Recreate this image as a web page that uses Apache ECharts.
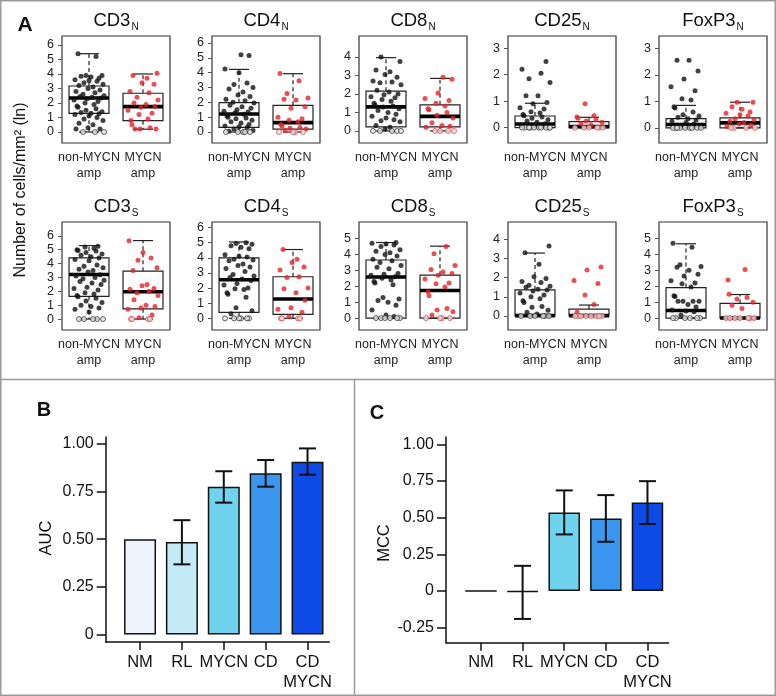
<!DOCTYPE html>
<html>
<head>
<meta charset="utf-8">
<script src="https://cdn.jsdelivr.net/npm/echarts@6/dist/echarts.min.js"></script>
<style>
html, body { margin: 0; padding: 0; background: #fff; }
#chart { width: 776px; height: 696px; }
</style>
</head>
<body>
<div id="chart"></div>
<script>
// groups on the x axis of every box plot
var GROUPS = ['non-MYCN\namp', 'MYCN\namp'];

// box stats: [lower whisker, Q1, median, Q3, upper whisker] for non-MYCN, MYCN
var CD3N_STATS = [[0, 1.29, 2.34, 3.17, 5.4], [0.19, 0.78, 1.75, 2.67, 4.0]];
var CD4N_STATS = [[0, 0.31, 1.21, 1.98, 4.22], [0, 0.2, 0.63, 1.8, 3.93]];
var CD8N_STATS = [[0, 0.22, 1.3, 2.15, 3.96], [0, 0.22, 0.79, 1.41, 2.84]];
var CD25N_STATS = [[0, 0, 0.14, 0.44, 0.92], [0, 0, 0.04, 0.23, 0.39]];
var FOXP3N_STATS = [[0, 0, 0.13, 0.35, 0.85], [0, 0, 0.19, 0.38, 0.97]];
var CD3S_STATS = [[0, 1.63, 3.21, 4.41, 5.3], [0, 0.74, 1.97, 3.45, 5.66]];
var CD4S_STATS = [[0, 0.4, 2.55, 4.0, 5.05], [0, 0.26, 1.28, 2.75, 4.55]];
var CD8S_STATS = [[0, 0, 2.58, 3.65, 4.75], [0, 0, 1.73, 2.7, 4.52]];
var CD25S_STATS = [[0, 0, 0.02, 1.36, 3.28], [0, 0, 0.02, 0.36, 0.57]];
var FOXP3S_STATS = [[0, 0, 0.48, 1.92, 4.67], [0, 0, 0, 0.92, 1.48]];

// individual samples (ln cells/mm2)
var CD3N_NON = [5.4, 5.2, 3.9, 3.9, 3.85, 3.8, 3.7, 3.6, 3.55, 3.5, 3.4, 3.3, 3.2, 3.1, 3.0, 2.9, 2.8, 2.7, 2.6, 2.5, 2.45, 2.4, 2.35, 2.3, 2.2, 2.1, 2.0, 1.9, 1.8, 1.7, 1.6, 1.5, 1.4, 1.35, 1.3, 1.25, 1.2, 1.1, 1.0, 0.9, 0.8, 0.6, 0.5, 0.3, 0.2, 0.2, 0, 0, 0];
var CD3N_AMP = [4.05, 3.9, 3.7, 3.4, 3.3, 2.8, 2.7, 2.4, 2.2, 2.0, 1.9, 1.75, 1.7, 1.5, 1.3, 1.2, 0.9, 0.8, 0.5, 0.3, 0.2, 0.2, 0.2];
var CD4N_NON = [5.2, 5.15, 4.25, 4.0, 3.3, 3.2, 3.0, 2.9, 2.7, 2.5, 2.4, 2.2, 2.1, 2.0, 1.95, 1.8, 1.7, 1.6, 1.5, 1.4, 1.35, 1.3, 1.2, 1.1, 1.0, 0.95, 0.9, 0.8, 0.7, 0.6, 0.5, 0.4, 0.35, 0.3, 0.2, 0.1, 0.05, 0, 0, 0, 0, 0];
var CD4N_AMP = [3.95, 3.45, 2.6, 2.3, 2.2, 2.15, 1.7, 1.6, 1.0, 0.9, 0.8, 0.7, 0.5, 0.4, 0.3, 0.25, 0.2, 0.1, 0, 0, 0, 0];
var CD8N_NON = [4.0, 3.75, 3.3, 3.2, 3.05, 2.9, 2.7, 2.65, 2.6, 2.5, 2.2, 2.1, 2.0, 1.95, 1.85, 1.8, 1.7, 1.6, 1.5, 1.4, 1.35, 1.3, 1.2, 1.1, 1.0, 0.9, 0.8, 0.7, 0.6, 0.55, 0.5, 0.3, 0.2, 0.1, 0, 0, 0, 0, 0];
var CD8N_AMP = [2.9, 2.8, 2.05, 1.75, 1.65, 1.5, 1.35, 1.2, 1.15, 1.0, 0.85, 0.7, 0.45, 0.3, 0.25, 0.2, 0, 0, 0, 0];
var CD25N_NON = [2.5, 2.2, 2.05, 1.85, 1.7, 1.2, 1.2, 0.95, 0.9, 0.75, 0.7, 0.6, 0.55, 0.5, 0.45, 0.4, 0.35, 0.3, 0.25, 0.2, 0.15, 0.1, 0.1, 0.05, 0, 0, 0, 0, 0, 0, 0, 0, 0, 0];
var CD25N_AMP = [0.9, 0.45, 0.4, 0.35, 0.3, 0.25, 0.2, 0.15, 0.1, 0, 0, 0, 0, 0, 0];
var FOXP3N_NON = [2.55, 2.55, 2.15, 1.85, 1.55, 1.4, 1.1, 1.05, 0.8, 0.75, 0.6, 0.5, 0.45, 0.4, 0.35, 0.3, 0.25, 0.2, 0.15, 0.1, 0.05, 0, 0, 0, 0, 0, 0, 0, 0, 0];
var FOXP3N_AMP = [0.97, 0.97, 0.8, 0.7, 0.6, 0.55, 0.5, 0.45, 0.35, 0.3, 0.25, 0.2, 0.15, 0.1, 0.05, 0, 0, 0, 0];
var CD3S_NON = [5.25, 5.2, 5.1, 5.0, 4.95, 4.9, 4.8, 4.7, 4.6, 4.5, 4.4, 4.3, 4.2, 3.9, 3.8, 3.7, 3.6, 3.5, 3.4, 3.2, 3.1, 3.0, 2.9, 2.8, 2.7, 2.6, 2.5, 2.3, 2.2, 2.1, 1.9, 1.8, 1.7, 1.6, 1.5, 1.3, 1.2, 1.0, 0.9, 0.8, 0.7, 0.5, 0, 0, 0, 0, 0];
var CD3S_AMP = [5.65, 4.8, 4.4, 4.25, 3.7, 3.5, 2.5, 2.4, 2.2, 2.15, 2.0, 1.9, 1.7, 1.4, 1.0, 0.9, 0.8, 0.7, 0.3, 0.1, 0, 0, 0, 0];
var CD4S_NON = [5.0, 4.95, 4.9, 4.8, 4.7, 4.6, 4.2, 4.1, 4.05, 3.9, 3.85, 3.8, 3.6, 3.5, 3.4, 3.3, 3.1, 2.9, 2.8, 2.7, 2.6, 2.5, 2.3, 2.2, 2.0, 1.95, 1.9, 1.7, 1.6, 1.4, 0.7, 0.5, 0.3, 0, 0, 0, 0, 0, 0];
var CD4S_AMP = [4.55, 3.9, 3.7, 3.4, 3.2, 2.75, 2.7, 2.0, 1.95, 1.7, 1.2, 0.7, 0.6, 0.4, 0.1, 0, 0, 0, 0];
var CD8S_NON = [4.75, 4.7, 4.65, 4.6, 4.5, 4.3, 4.2, 4.1, 4.0, 3.9, 3.7, 3.6, 3.5, 3.3, 3.2, 3.1, 2.8, 2.75, 2.7, 2.6, 2.5, 2.4, 2.3, 2.2, 2.1, 1.3, 1.2, 1.1, 1.0, 0.8, 0.5, 0.2, 0.1, 0, 0, 0, 0, 0, 0];
var CD8S_AMP = [4.5, 4.05, 3.3, 3.05, 2.9, 2.8, 2.7, 2.45, 2.2, 2.15, 1.95, 1.65, 1.4, 0.6, 0.5, 0.4, 0.2, 0, 0, 0, 0];
var CD25S_NON = [3.65, 3.3, 2.7, 2.05, 1.95, 1.8, 1.75, 1.6, 1.55, 1.5, 1.4, 1.35, 1.3, 1.2, 1.1, 1.0, 0.9, 0.8, 0.7, 0.5, 0.45, 0.3, 0.2, 0.1, 0, 0, 0, 0, 0, 0];
var CD25S_AMP = [2.55, 2.4, 1.85, 1.7, 1.1, 0.6, 0.2, 0, 0, 0, 0, 0, 0, 0, 0];
var FOXP3S_NON = [4.7, 4.45, 3.35, 3.25, 3.2, 3.0, 2.75, 2.65, 2.35, 2.2, 2.15, 1.95, 1.4, 1.35, 1.05, 1.05, 1.05, 1.05, 0.85, 0.7, 0.5, 0.45, 0.4, 0.2, 0, 0, 0, 0, 0, 0];
var FOXP3S_AMP = [3.05, 2.4, 1.5, 1.3, 1.2, 1.0, 0.8, 0.6, 0, 0, 0, 0, 0, 0, 0];

// y tick labels of the box plots
var TICKS_3 = [0, 1, 2, 3];
var TICKS_4 = [0, 1, 2, 3, 4];
var TICKS_5 = [0, 1, 2, 3, 4, 5];
var TICKS_6 = [0, 1, 2, 3, 4, 5, 6];

// panels B and C
var BAR_CATS = ['NM', 'RL', 'MYCN', 'CD', 'CD\nMYCN'];
var AUC = [0.5, 0.485, 0.776, 0.846, 0.907];
var AUC_LO = [null, 0.368, 0.692, 0.776, 0.839];
var AUC_HI = [null, 0.6, 0.857, 0.916, 0.977];
var MCC = [0, -0.005, 0.536, 0.495, 0.604];
var MCC_LO = [null, -0.19, 0.386, 0.336, 0.457];
var MCC_HI = [null, 0.172, 0.686, 0.654, 0.749];
var AUC_TICKS = [0, 0.25, 0.5, 0.75, 1];
var AUC_TICK_LABELS = ['0', '0.25', '0.50', '0.75', '1.00'];
var MCC_TICKS = [-0.25, 0, 0.25, 0.5, 0.75, 1];
var MCC_TICK_LABELS = ['-0.25', '0', '0.25', '0.50', '0.75', '1.00'];

var PANELS = [
	{ name: 'CD3', sub: 'N', stats: CD3N_STATS, non: CD3N_NON, amp: CD3N_AMP, ticks: TICKS_6 },
	{ name: 'CD4', sub: 'N', stats: CD4N_STATS, non: CD4N_NON, amp: CD4N_AMP, ticks: TICKS_6 },
	{ name: 'CD8', sub: 'N', stats: CD8N_STATS, non: CD8N_NON, amp: CD8N_AMP, ticks: TICKS_4 },
	{ name: 'CD25', sub: 'N', stats: CD25N_STATS, non: CD25N_NON, amp: CD25N_AMP, ticks: TICKS_3 },
	{ name: 'FoxP3', sub: 'N', stats: FOXP3N_STATS, non: FOXP3N_NON, amp: FOXP3N_AMP, ticks: TICKS_3 },
	{ name: 'CD3', sub: 'S', stats: CD3S_STATS, non: CD3S_NON, amp: CD3S_AMP, ticks: TICKS_6 },
	{ name: 'CD4', sub: 'S', stats: CD4S_STATS, non: CD4S_NON, amp: CD4S_AMP, ticks: TICKS_6 },
	{ name: 'CD8', sub: 'S', stats: CD8S_STATS, non: CD8S_NON, amp: CD8S_AMP, ticks: TICKS_5 },
	{ name: 'CD25', sub: 'S', stats: CD25S_STATS, non: CD25S_NON, amp: CD25S_AMP, ticks: TICKS_4 },
	{ name: 'FoxP3', sub: 'S', stats: FOXP3S_STATS, non: FOXP3S_NON, amp: FOXP3S_AMP, ticks: TICKS_5 }
];

// layout
var FONT = 'Liberation Sans, Arial, sans-serif';
var COL_LEFT = [62, 212, 359, 508, 659];
var ROW_TOP = [36, 222];
var ROW_H = [107, 108];
var BOX_W = 108;
var Y_RANGE = [[-0.76, 6.62], [-0.74, 6.47], [-0.65, 5.13], [-0.58, 3.46], [-0.57, 3.47],
	[-0.79, 7.0], [-0.77, 6.37], [-0.75, 6.04], [-0.73, 4.9], [-0.75, 6.04]];
var JITTER = [-11, 7, -3, 13, -8, 2, 10, -14, 0, 8, -5, 14, -10, 4, -1, 11, -13, 6, -6, 15, -9, 3, 12, -2, -15, 9, -4, 5, -12];
var DOT_COLORS = ['#111111', '#e3242b'];
var BAR_COLORS = ['#eff3fb', '#c4ebf5', '#6fd3ee', '#3b96ef', '#0e4ae6'];

function renderBox(params, api) {
	var i = api.value(0);
	var lo = api.coord([i, api.value(1)]);
	var q1 = api.coord([i, api.value(2)]);
	var md = api.coord([i, api.value(3)]);
	var q3 = api.coord([i, api.value(4)]);
	var hi = api.coord([i, api.value(5)]);
	var w = api.size([1, 0])[0] * 0.74;
	var x = q1[0], cap = w / 4;
	var thin = { stroke: '#222', lineWidth: 1.2 };
	var dash = { stroke: '#222', lineWidth: 1.2, lineDash: [4, 3] };
	return {
		type: 'group',
		children: [
			{ type: 'line', shape: { x1: x, y1: q3[1], x2: x, y2: hi[1] }, style: dash },
			{ type: 'line', shape: { x1: x, y1: q1[1], x2: x, y2: lo[1] }, style: dash },
			{ type: 'line', shape: { x1: x - cap, y1: hi[1], x2: x + cap, y2: hi[1] }, style: thin },
			{ type: 'line', shape: { x1: x - cap, y1: lo[1], x2: x + cap, y2: lo[1] }, style: thin },
			{ type: 'rect', shape: { x: x - w / 2, y: q3[1], width: w, height: q1[1] - q3[1] }, style: { fill: 'none', stroke: '#222', lineWidth: 1.2 } },
			{ type: 'line', shape: { x1: x - w / 2, y1: md[1], x2: x + w / 2, y2: md[1] }, style: { stroke: '#000', lineWidth: 3.6 } }
		]
	};
}

function renderErr(params, api) {
	var lo = api.coord([api.value(0), api.value(1)]);
	var hi = api.coord([api.value(0), api.value(2)]);
	var h = 8.5;
	var st = { stroke: '#111', lineWidth: 2 };
	return {
		type: 'group',
		children: [
			{ type: 'line', shape: { x1: lo[0], y1: lo[1], x2: hi[0], y2: hi[1] }, style: st },
			{ type: 'line', shape: { x1: lo[0] - h, y1: lo[1], x2: lo[0] + h, y2: lo[1] }, style: st },
			{ type: 'line', shape: { x1: hi[0] - h, y1: hi[1], x2: hi[0] + h, y2: hi[1] }, style: st }
		]
	};
}

var grid = [], xAxis = [], yAxis = [], series = [], graphic = [];

PANELS.forEach(function (p, k) {
	var row = Math.floor(k / 5), col = k % 5;
	grid.push({ left: COL_LEFT[col], top: ROW_TOP[row], width: BOX_W, height: ROW_H[row],
		show: true, borderColor: '#333', borderWidth: 1.2 });
	xAxis.push({
		type: 'category', gridIndex: k, data: GROUPS,
		axisLine: { show: false, onZero: false },
		axisTick: { alignWithLabel: true, length: 4, lineStyle: { color: '#555' } },
		axisLabel: { interval: 0, color: '#222', fontSize: 12.5, lineHeight: 16, margin: 7, fontFamily: FONT }
	});
	yAxis.push({
		type: 'value', gridIndex: k, min: Y_RANGE[k][0], max: Y_RANGE[k][1],
		axisLine: { show: false, onZero: false },
		splitLine: { show: false },
		axisTick: { show: true, customValues: p.ticks, length: 4, lineStyle: { color: '#555' } },
		axisLabel: { customValues: p.ticks, color: '#222', fontSize: 12.5, margin: 8, fontFamily: FONT }
	});
	series.push({
		type: 'custom', xAxisIndex: k, yAxisIndex: k, z: 2, renderItem: renderBox,
		encode: { x: 0, y: [1, 2, 3, 4, 5] },
		data: p.stats.map(function (s, i) { return [i].concat(s); })
	});
	[p.non, p.amp].forEach(function (vals, g) {
		series.push({
			type: 'scatter', xAxisIndex: k, yAxisIndex: k, z: 3, symbolSize: 5,
			data: vals.map(function (v, j) {
				var off = JITTER[(j + 5 * k + 11 * g) % JITTER.length];
				return {
					value: [g, v],
					symbolOffset: [off, 0],
					itemStyle: v === 0 ? { color: '#e4e4e4', borderColor: DOT_COLORS[g], borderWidth: 0.8 } : { color: DOT_COLORS[g] }
				};
			})
		});
	});
	graphic.push({
		type: 'text', x: COL_LEFT[col] + BOX_W / 2, y: ROW_TOP[row] - 15,
		style: {
			text: '{m|' + p.name + '}{s|' + p.sub + '}', align: 'center', verticalAlign: 'middle',
			rich: {
				m: { fontSize: 18.5, fontFamily: FONT, fill: '#111' },
				s: { fontSize: 10, fontFamily: FONT, fill: '#111', padding: [12, 0, 0, 1] }
			}
		}
	});
});

function barPanel(idx, opt) {
	grid.push({ left: opt.left, top: 437, width: opt.width, height: opt.height, show: false });
	xAxis.push({
		type: 'value', gridIndex: idx, min: opt.xMin, max: opt.xMax,
		axisLine: { onZero: false, lineStyle: { color: '#111', width: 1.5 } },
		splitLine: { show: false },
		axisTick: { customValues: [0, 1, 2, 3, 4], length: 8, lineStyle: { color: '#111', width: 1.5 } },
		axisLabel: { customValues: [0, 1, 2, 3, 4], formatter: function (v) { return BAR_CATS[v]; },
			color: '#111', fontSize: 16.5, lineHeight: 20, margin: 10, fontFamily: FONT }
	});
	yAxis.push({
		type: 'value', gridIndex: idx, min: opt.yMin, max: opt.yMax,
		axisLine: { show: true, onZero: false, lineStyle: { color: '#111', width: 1.5 } },
		splitLine: { show: false },
		axisTick: { show: true, customValues: opt.ticks, length: 9, lineStyle: { color: '#111', width: 1.5 } },
		axisLabel: { customValues: opt.ticks, formatter: function (v) { return opt.labels[opt.ticks.indexOf(v)]; },
			color: '#111', fontSize: 16, margin: 12, fontFamily: FONT }
	});
	series.push({
		type: 'bar', xAxisIndex: idx, yAxisIndex: idx, barWidth: opt.barWidth,
		itemStyle: { borderColor: '#111', borderWidth: 1.5 },
		data: opt.values.map(function (v, i) {
			return { value: [i, v], itemStyle: { color: BAR_COLORS[i] } };
		})
	});
	var err = [];
	opt.lo.forEach(function (l, i) { if (l !== null) err.push([i, l, opt.hi[i]]); });
	series.push({ type: 'custom', xAxisIndex: idx, yAxisIndex: idx, z: 4, renderItem: renderErr,
		encode: { x: 0, y: [1, 2] }, data: err });
}

barPanel(10, { left: 105.7, width: 223.6, height: 205, xMin: -0.82, xMax: 4.52, yMin: -0.04, yMax: 1.037,
	ticks: AUC_TICKS, labels: AUC_TICK_LABELS, values: AUC, lo: AUC_LO, hi: AUC_HI, barWidth: 32 });
barPanel(11, { left: 446, width: 222.7, height: 205.7, xMin: -0.84, xMax: 4.51, yMin: -0.352, yMax: 1.05,
	ticks: MCC_TICKS, labels: MCC_TICK_LABELS, values: MCC, lo: MCC_LO, hi: MCC_HI, barWidth: 31.5 });

var frame = { stroke: '#9a9a9a', lineWidth: 1.5 };
graphic.push(
	{ type: 'rect', shape: { x: 0.75, y: 0.75, width: 774.5, height: 694.5 }, style: { fill: 'none', stroke: '#9a9a9a', lineWidth: 1.5 } },
	{ type: 'line', shape: { x1: 0, y1: 379.5, x2: 776, y2: 379.5 }, style: frame },
	{ type: 'line', shape: { x1: 354.5, y1: 379.5, x2: 354.5, y2: 696 }, style: frame },
	{ type: 'text', x: 25, y: 25, style: { text: 'A', align: 'center', verticalAlign: 'middle', fontSize: 21, fontWeight: 'bold', fontFamily: FONT, fill: '#111' } },
	{ type: 'text', x: 44, y: 410, style: { text: 'B', align: 'center', verticalAlign: 'middle', fontSize: 20, fontWeight: 'bold', fontFamily: FONT, fill: '#111' } },
	{ type: 'text', x: 377, y: 413, style: { text: 'C', align: 'center', verticalAlign: 'middle', fontSize: 20, fontWeight: 'bold', fontFamily: FONT, fill: '#111' } },
	{ type: 'text', x: 21, y: 190, rotation: Math.PI / 2, style: { text: 'Number of cells/mm\u00b2 (ln)', align: 'center', verticalAlign: 'middle', fontSize: 16, fontFamily: FONT, fill: '#111' } },
	{ type: 'text', x: 46, y: 538, rotation: Math.PI / 2, style: { text: 'AUC', align: 'center', verticalAlign: 'middle', fontSize: 16.5, fontFamily: FONT, fill: '#111' } },
	{ type: 'text', x: 384, y: 543, rotation: Math.PI / 2, style: { text: 'MCC', align: 'center', verticalAlign: 'middle', fontSize: 16.5, fontFamily: FONT, fill: '#111' } }
);

var myChart = echarts.init(document.getElementById('chart'));
myChart.setOption({
	animation: false,
	backgroundColor: '#fff',
	textStyle: { fontFamily: FONT },
	grid: grid,
	xAxis: xAxis,
	yAxis: yAxis,
	series: series,
	graphic: graphic
});
</script>
</body>
</html>
